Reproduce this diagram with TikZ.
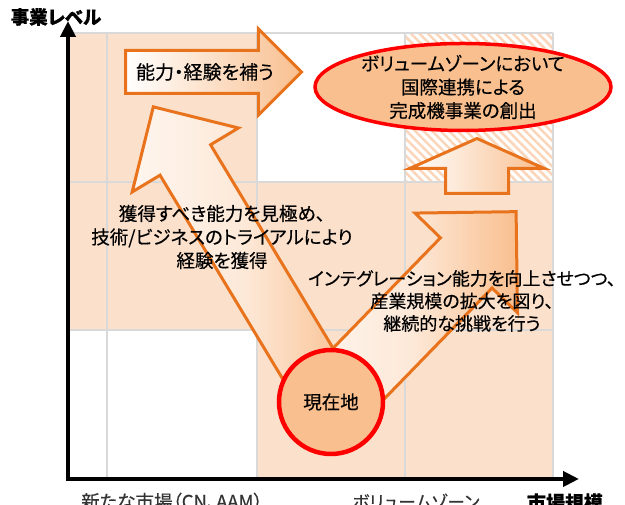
\documentclass[tikz,border=0pt]{standalone}
\usepackage{fontspec}
\setmainfont{Noto Sans CJK JP}[RawFeature=+palt, FakeBold=0.4]
\usetikzlibrary{shapes.geometric,shapes.arrows,arrows.meta,patterns.meta}

\definecolor{zone}{HTML}{FBE0CB}
\definecolor{peach}{HTML}{F9BF8F}
\definecolor{rim}{HTML}{E8731C}
\definecolor{gridline}{HTML}{D9D9D9}
\definecolor{hatch}{HTML}{FBD5B9}

\begin{document}
\begin{tikzpicture}[x=1pt, y=1pt,
    gridl/.style = {draw=gridline, line width=1.5pt},
    axis/.style = {line width=4pt, line cap=rect, -{Triangle[length=16pt, width=15pt]}},
    fat/.style = {single arrow, draw=rim, line width=3pt, inner xsep=0pt,
                  single arrow tip angle=90, anchor=tail,
                  left color=white, right color=peach},
    txt/.style = {align=center, font=\fontsize{18.5}{23.5}\selectfont}]
    \useasboundingbox (0,0) rectangle (625,505);
    % zones
    \fill[zone] (68,323) rectangle (257,472);
    \fill[zone] (68,175) rectangle (553,323);
    \fill[zone] (257,26) rectangle (553,175);
    \fill[pattern={Lines[angle=-45, distance=6pt, line width=2.5pt]}, pattern color=hatch]
        (405,323) rectangle (553,472);
    \foreach \x in {107,257,405,553}
        \draw[gridl] (\x,26) -- (\x,472);
    \foreach \y in {175,323,472}
        \draw[gridl] (68,\y) -- (553,\y);
    % axes
    \coordinate (o) at (68,26);
    \coordinate (ytop) at (68,484);
    \coordinate (xend) at (579,26);
    \draw[axis] (o) -- (ytop);
    \draw[axis] (o) -- (xend);
    % arrows
    \coordinate (origin) at (331,103);
    \node[fat, rotate=121.05, minimum height=343pt, inner ysep=28pt, single arrow head extend=32.5pt,
          left color=peach!15!white, middle color=peach!35!white] (learn) at (origin) {};
    \node[fat, rotate=45.8, minimum height=264pt, inner ysep=34.5pt, single arrow head extend=35.5pt,
          left color=peach!15!white, middle color=peach!35!white] (grow) at (origin) {};
    \node[fat, minimum height=176pt, inner ysep=20pt, single arrow head extend=21.5pt] (gain) at (124,433) {};
    \node[fat, rotate=90, minimum height=55pt, inner ysep=30pt, single arrow head extend=35.5pt,
          single arrow tip angle=132] (rise) at (477,310) {};
    % circle and goal
    \node[txt, circle, draw=red, line width=4.5pt, fill=peach, minimum size=104pt, inner sep=0pt] (here) at (origin) {現在地};
    \node[ellipse, draw=red, line width=3.5pt, fill=peach, minimum width=296pt, minimum height=87pt] (goal) at (463,418) {};
    \node[txt] (goaltext) at (goal) {ボリュームゾーンにおいて\\国際連携による\\完成機事業の創出};
    % labels
    \node[txt, font=\fontsize{19}{24}\selectfont] (gaintext) at (205,433) {能力・経験を補う};
    \node[txt] (learntext) at (222,268) {獲得すべき能力を見極め、\\技術/ビジネスのトライアルにより\\経験を獲得};
    \node[txt, font=\fontsize{18}{22.5}\selectfont, inner sep=1pt] (growtext) at (462,204) {インテグレーション能力を向上させつつ、\\産業規模の拡大を図り、\\継続的な挑戦を行う};
    \node[font=\bfseries\fontsize{18.5}{22}\selectfont] (ylabel) at (56,488) {事業レベル};
    \node[font=\bfseries\fontsize{19}{22}\selectfont] (xlabel) at (565,2.5) {市場規模};
    \node[font=\fontsize{18.5}{22}\selectfont, text=black!80] (newmkt) at (172,3.5) {新たな市場（CN、AAM）};
    \node[font=\fontsize{17.5}{22}\selectfont, text=black!80] (volume) at (416,3.5) {ボリュームゾーン};
\end{tikzpicture}
\end{document}
